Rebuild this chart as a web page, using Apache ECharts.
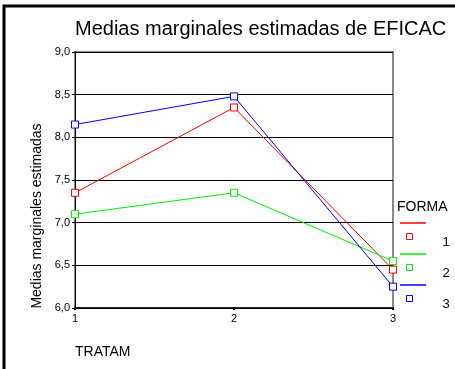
<!DOCTYPE html>
<html>
<head>
<meta charset="utf-8">
<script src="https://cdn.jsdelivr.net/npm/echarts@6/dist/echarts.min.js"></script>
<style>
html,body{margin:0;padding:0;background:#fff;}
#chart{width:455px;height:369px;}
</style>
</head>
<body>
<div id="chart"></div>
<script>
var categories = ['1', '2', '3'];
var seriesNames = ['1', '2', '3'];
var forma1 = [7.35, 8.35, 6.45];
var forma2 = [7.10, 7.35, 6.55];
var forma3 = [8.15, 8.48, 6.25];
var seriesColors = ['#ff0000', '#00ee00', '#0000ff'];
var yTicks = [6.0, 6.5, 7.0, 7.5, 8.0, 8.5, 9.0];

var allData = [forma1, forma2, forma3];
var font = 'Liberation Sans, Arial, sans-serif';

var chart = echarts.init(document.getElementById('chart'), null, {renderer: 'canvas'});

var series = allData.map(function (d, i) {
  return {
    name: seriesNames[i],
    type: 'line',
    data: d,
    symbol: 'rect',
    symbolSize: 7,
    showSymbol: true,
    lineStyle: {color: seriesColors[i], width: 1},
    itemStyle: {color: '#fff', borderColor: seriesColors[i], borderWidth: 1},
    emphasis: {disabled: true},
    animation: false
  };
});

var legendGraphics = [{
  type: 'text', left: 397, top: 200,
  style: {text: 'FORMA', font: '14px ' + font, fill: '#000'}
}];
seriesNames.forEach(function (n, i) {
  var y0 = 223 + i * 31;
  legendGraphics.push({
    type: 'line',
    shape: {x1: 400, y1: y0, x2: 426, y2: y0},
    style: {stroke: seriesColors[i], lineWidth: 1.5}
  });
  legendGraphics.push({
    type: 'rect',
    shape: {x: 406.5, y: y0 + 10.5, width: 6, height: 6},
    style: {stroke: seriesColors[i], fill: '#fff', lineWidth: 1}
  });
  legendGraphics.push({
    type: 'text', x: 446, y: y0 + 19.5,
    style: {text: n, font: '13px ' + font, fill: '#000', textAlign: 'center', textVerticalAlign: 'middle'}
  });
});

var option = {
  animation: false,
  backgroundColor: '#fff',
  title: {
    text: 'Medias marginales estimadas de EFICAC',
    left: 75, top: 19, padding: 0,
    textStyle: {fontFamily: font, fontSize: 20, fontWeight: 'normal', color: '#000'}
  },
  grid: {
    left: 75, right: 62, top: 52, bottom: 61,
    show: true, borderColor: '#888', borderWidth: 2, backgroundColor: 'transparent'
  },
  xAxis: {
    type: 'category',
    data: categories,
    boundaryGap: false,
    axisLine: {lineStyle: {color: '#000', width: 1.5}},
    axisTick: {show: true, length: 2, lineStyle: {color: '#000', width: 2}},
    axisLabel: {margin: 5, fontFamily: font, fontSize: 11, color: '#000'},
    splitLine: {show: false}
  },
  yAxis: {
    type: 'value',
    min: 6, max: 9, interval: 0.5,
    axisLine: {show: true, lineStyle: {color: '#000', width: 1}},
    axisTick: {show: true, length: 3, lineStyle: {color: '#000'}},
    axisLabel: {
      margin: 5, fontFamily: font, fontSize: 11, color: '#000',
      formatter: function (v) { return v.toFixed(1).replace('.', ','); }
    },
    splitLine: {show: true, lineStyle: {color: '#000', width: 1}}
  },
  series: series,
  graphic: [
    {type: 'polyline', shape: {points: [[4, 369], [4, 6], [455, 6]]}, style: {stroke: '#000', lineWidth: 3, fill: null}},
    {type: 'text', x: 37, y: 216, rotation: Math.PI / 2,
      style: {text: 'Medias marginales estimadas', font: '14px ' + font, fill: '#000', textAlign: 'center', textVerticalAlign: 'middle'}},
    {type: 'text', left: 75, top: 345,
      style: {text: 'TRATAM', font: '14px ' + font, fill: '#000'}}
  ].concat(legendGraphics)
};
chart.setOption(option);
</script>
</body>
</html>
